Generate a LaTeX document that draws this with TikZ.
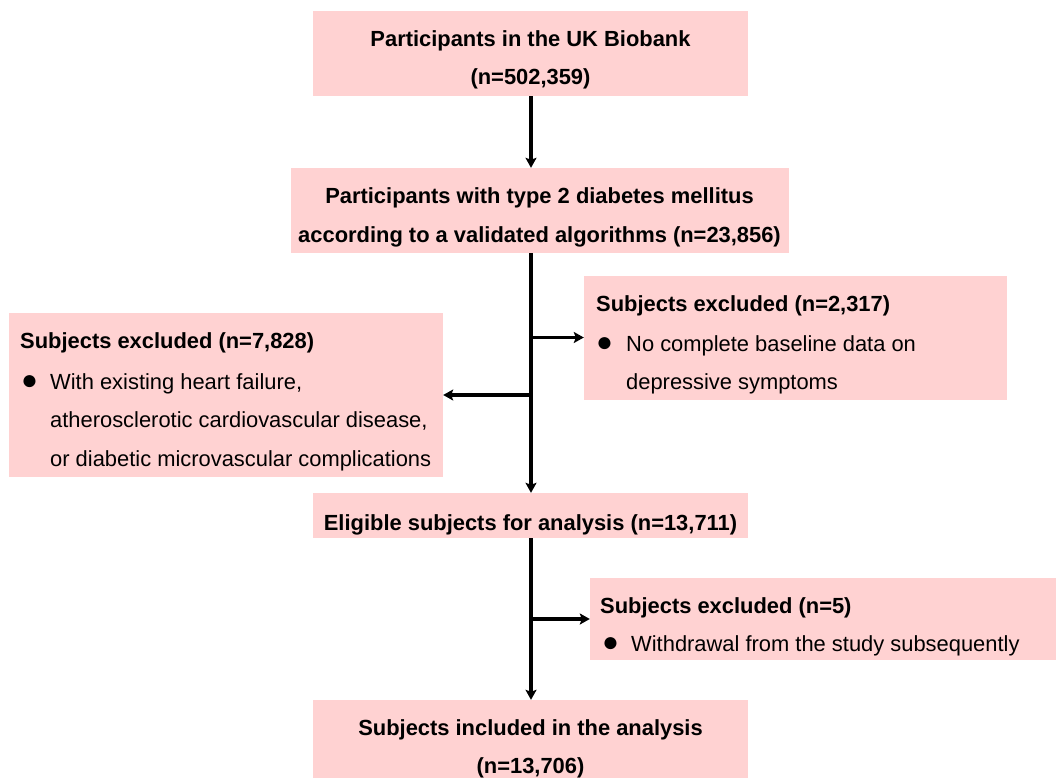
\documentclass[tikz,border=0pt]{standalone}
\usepackage{fontspec}
\setmainfont{Liberation Sans}
\usetikzlibrary{arrows.meta}
\definecolor{boxpink}{RGB}{255,210,210}
\tikzset{
  box/.style={draw=none,fill=boxpink,inner sep=0pt,minimum width=#1},
  txt/.style={inner sep=0pt,font=\fontsize{21.9}{26}\selectfont},
  btxt/.style={inner sep=0pt,font=\fontsize{21.9}{26}\selectfont\bfseries},
  bul/.style={inner sep=0pt,font=\fontsize{28}{30}\selectfont,anchor=base west},
  arr/.style={line width=3.2pt,-{Stealth[length=10pt,width=11pt,inset=2pt]}},
}
\begin{document}
\begin{tikzpicture}[x=1pt,y=-1pt]
\useasboundingbox (0,0) rectangle (1056,778);
% boxes
\node[box=435pt,minimum height=85pt] (b1) at (530.5,53.5) {};
\node[box=498pt,minimum height=85pt] (b2) at (540,210.5) {};
\node[box=423pt,minimum height=124pt] (r1) at (795.5,337.5) {};
\node[box=434pt,minimum height=164pt] (lf) at (226,395) {};
\node[box=435pt,minimum height=45pt] (el) at (530.5,515.5) {};
\node[box=466pt,minimum height=82pt] (r2) at (823,619) {};
\node[box=435pt,minimum height=78pt] (bt) at (530.5,739) {};
% texts
\node[btxt,anchor=base] (t1a) at (530.5,47) {Participants in the UK Biobank};
\node[btxt,anchor=base] (t1b) at (530.5,85) {(n=502,359)};
\node[btxt,anchor=base] (t2a) at (539.5,203) {Participants with type 2 diabetes mellitus};
\node[btxt,anchor=base] (t2b) at (539.5,242) {according to a validated algorithms (n=23,856)};
\node[btxt,anchor=base west] (r1a) at (596,311) {Subjects excluded (n=2,317)};
\node[bul] (r1bul) at (596,351) {●};
\node[txt,anchor=base west] (r1b) at (626,351) {No complete baseline data on};
\node[txt,anchor=base west] (r1c) at (626,389) {depressive symptoms};
\node[btxt,anchor=base west] (lfa) at (20,348) {Subjects excluded (n=7,828)};
\node[bul] (lfbul) at (21,389) {●};
\node[txt,anchor=base west] (lfb) at (50,389) {With existing heart failure,};
\node[txt,anchor=base west] (lfc) at (50,427) {atherosclerotic cardiovascular disease,};
\node[txt,anchor=base west] (lfd) at (50,466) {or diabetic microvascular complications};
\node[btxt,anchor=base] (ela) at (530.5,530) {Eligible subjects for analysis (n=13,711)};
\node[btxt,anchor=base west] (r2a) at (600,613) {Subjects excluded (n=5)};
\node[bul] (r2bul) at (602,651) {●};
\node[txt,anchor=base west] (r2b) at (631,651) {Withdrawal from the study subsequently};
\node[btxt,anchor=base] (bta) at (530.5,735) {Subjects included in the analysis};
\node[btxt,anchor=base] (btb) at (530.5,773) {(n=13,706)};
% connectors
\coordinate (sp) at (531,0);
\draw[arr] (b1.south -| sp) -- (b2.north -| sp);
\draw[arr] (b2.south -| sp) -- (el.north -| sp);
\draw[arr] (el.south -| sp) -- (bt.north -| sp);
\draw[arr] (r1.west -| sp) -- (r1.west);
\draw[arr] (lf.east -| sp) -- (lf.east);
\draw[arr] (r2.west -| sp) -- (r2.west);
\end{tikzpicture}
\end{document}
